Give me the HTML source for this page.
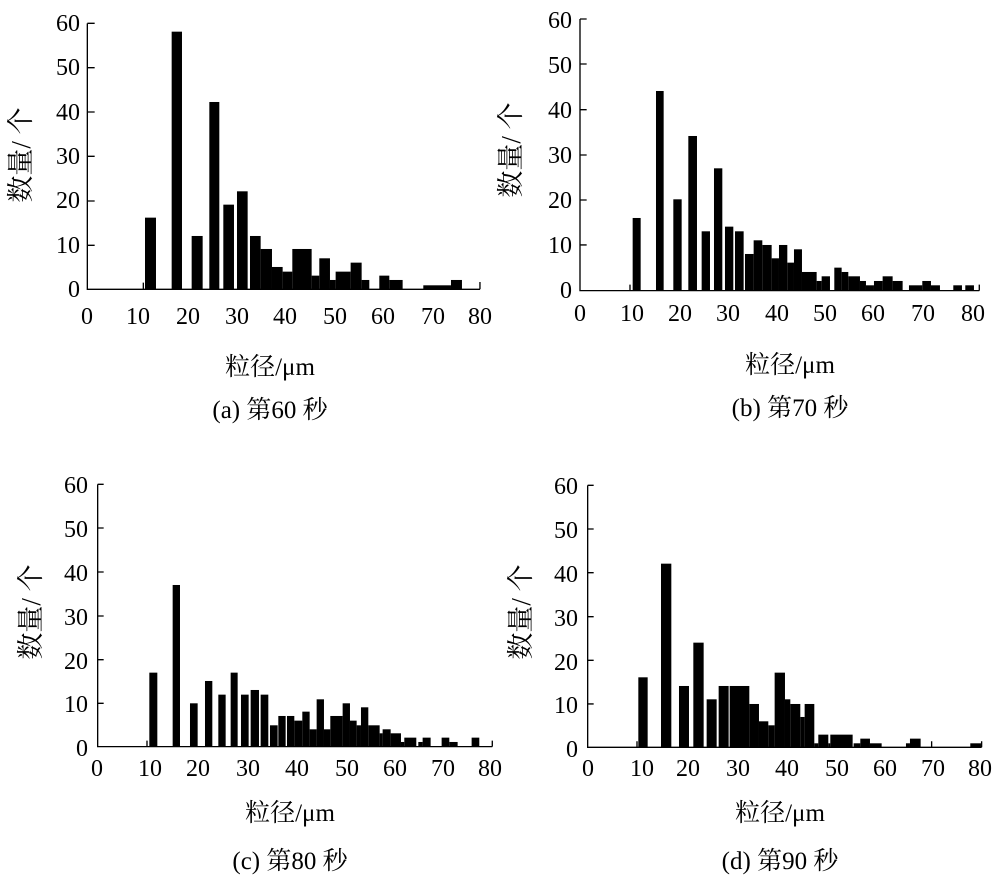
<!DOCTYPE html>
<html><head><meta charset="utf-8"><style>
html,body{margin:0;padding:0;background:#fff;}
svg text{font-family:"Liberation Serif","Noto Serif CJK SC",serif;fill:#000;}
</style></head><body>
<svg width="1000" height="886" viewBox="0 0 1000 886" xmlns="http://www.w3.org/2000/svg">
<!-- Chart A -->
<g transform="translate(80,10) scale(0.3333)">
<g fill="#000">
<rect x="195" y="623" width="33" height="215"/><rect x="275" y="65" width="31" height="773"/><rect x="335" y="678" width="33" height="160"/><rect x="388" y="276" width="30" height="562"/><rect x="430" y="584" width="32" height="254"/><rect x="471" y="544" width="32" height="294"/><rect x="510" y="678" width="32" height="160"/><rect x="542" y="717" width="34" height="121"/><rect x="576" y="771" width="32" height="67"/><rect x="608" y="785" width="29" height="53"/><rect x="637" y="717" width="58" height="121"/><rect x="695" y="797" width="23" height="41"/><rect x="718" y="745" width="32" height="93"/><rect x="750" y="810" width="17" height="28"/><rect x="767" y="785" width="45" height="53"/><rect x="812" y="758" width="33" height="80"/><rect x="845" y="810" width="23" height="28"/><rect x="898" y="797" width="30" height="41"/><rect x="928" y="810" width="40" height="28"/><rect x="1030" y="826" width="83" height="12"/><rect x="1113" y="810" width="33" height="28"/>
</g>
<g stroke="#000" stroke-width="4" fill="none">
<path d="M22 40V838H1200M22 40h22M22 173h22M22 306h22M22 439h22M22 573h22M22 706h22M190 838v-20M1200 838v-22"/>
</g></g>
<g font-size="24" text-anchor="end">
<text x="80" y="31">60</text><text x="80" y="75">50</text><text x="80" y="120">40</text><text x="80" y="164">30</text><text x="80" y="208">20</text><text x="80" y="253">10</text><text x="80" y="297">0</text>
</g>
<g font-size="24" text-anchor="middle">
<text x="87" y="324">0</text><text x="138" y="324">10</text><text x="188" y="324">20</text><text x="237" y="324">30</text><text x="285" y="324">40</text><text x="335" y="324">50</text><text x="383" y="324">60</text><text x="433" y="324">70</text><text x="480" y="324">80</text>
<text x="270" y="375" font-size="25">粒径/μm</text>
<text x="270" y="418" font-size="25">(a) 第60 秒</text>
</g>
<text transform="translate(30,155) rotate(-90)" font-size="27" text-anchor="middle">数量/ 个</text>

<!-- Chart B -->
<g transform="translate(570,10) scale(0.3333)">
<g fill="#000">
<rect x="188" y="624" width="24" height="218"/><rect x="258" y="243" width="23" height="599"/><rect x="310" y="568" width="25" height="274"/><rect x="355" y="378" width="26" height="464"/><rect x="395" y="664" width="25" height="178"/><rect x="432" y="475" width="25" height="367"/><rect x="465" y="650" width="25" height="192"/><rect x="495" y="664" width="26" height="178"/><rect x="525" y="732" width="26" height="110"/><rect x="551" y="691" width="26" height="151"/><rect x="577" y="705" width="28" height="137"/><rect x="605" y="745" width="22" height="97"/><rect x="627" y="705" width="25" height="137"/><rect x="652" y="758" width="20" height="84"/><rect x="672" y="718" width="24" height="124"/><rect x="696" y="786" width="44" height="56"/><rect x="740" y="813" width="15" height="29"/><rect x="755" y="799" width="25" height="43"/><rect x="793" y="773" width="22" height="69"/><rect x="815" y="786" width="20" height="56"/><rect x="835" y="799" width="35" height="43"/><rect x="870" y="813" width="18" height="29"/><rect x="888" y="826" width="24" height="16"/><rect x="912" y="813" width="26" height="29"/><rect x="938" y="799" width="30" height="43"/><rect x="968" y="813" width="30" height="29"/><rect x="1017" y="826" width="40" height="16"/><rect x="1057" y="813" width="26" height="29"/><rect x="1083" y="826" width="27" height="16"/><rect x="1150" y="826" width="26" height="16"/><rect x="1186" y="826" width="26" height="16"/>
</g>
<g stroke="#000" stroke-width="4" fill="none">
<path d="M30 27V842H1228M30 27h20M30 162h20M30 299h20M30 435h20M30 570h20M30 705h20M180 842v-18M1228 842v-18"/>
</g></g>
<g font-size="24" text-anchor="end">
<text x="572" y="28">60</text><text x="572" y="73">50</text><text x="572" y="118">40</text><text x="572" y="163">30</text><text x="572" y="208">20</text><text x="572" y="253">10</text><text x="572" y="298">0</text>
</g>
<g font-size="24" text-anchor="middle">
<text x="580" y="321">0</text><text x="632" y="321">10</text><text x="680" y="321">20</text><text x="728" y="321">30</text><text x="777" y="321">40</text><text x="825" y="321">50</text><text x="873" y="321">60</text><text x="923" y="321">70</text><text x="973" y="321">80</text>
<text x="790" y="373" font-size="25">粒径/μm</text>
<text x="790" y="416" font-size="25">(b) 第70 秒</text>
</g>
<text transform="translate(520,150) rotate(-90)" font-size="27" text-anchor="middle">数量/ 个</text>

<!-- Chart C -->
<g transform="translate(85,470) scale(0.3333)">
<g fill="#000">
<rect x="193" y="608" width="24" height="222"/><rect x="263" y="345" width="22" height="485"/><rect x="315" y="700" width="23" height="130"/><rect x="360" y="633" width="22" height="197"/><rect x="400" y="674" width="22" height="156"/><rect x="437" y="608" width="21" height="222"/><rect x="468" y="674" width="23" height="156"/><rect x="497" y="660" width="25" height="170"/><rect x="527" y="674" width="23" height="156"/><rect x="555" y="766" width="23" height="64"/><rect x="580" y="738" width="22" height="92"/><rect x="606" y="738" width="22" height="92"/><rect x="628" y="752" width="24" height="78"/><rect x="652" y="725" width="22" height="105"/><rect x="674" y="778" width="21" height="52"/><rect x="695" y="688" width="22" height="142"/><rect x="717" y="778" width="19" height="52"/><rect x="736" y="738" width="37" height="92"/><rect x="773" y="700" width="22" height="130"/><rect x="795" y="752" width="20" height="78"/><rect x="815" y="766" width="13" height="64"/><rect x="828" y="712" width="22" height="118"/><rect x="850" y="766" width="34" height="64"/><rect x="884" y="790" width="9" height="40"/><rect x="893" y="778" width="24" height="52"/><rect x="917" y="790" width="31" height="40"/><rect x="948" y="816" width="10" height="14"/><rect x="958" y="803" width="36" height="27"/><rect x="1000" y="816" width="13" height="14"/><rect x="1013" y="803" width="24" height="27"/><rect x="1070" y="803" width="23" height="27"/><rect x="1093" y="816" width="25" height="14"/><rect x="1160" y="803" width="23" height="27"/>
</g>
<g stroke="#000" stroke-width="4" fill="none">
<path d="M38 43V830H1222M38 43h18M38 174h18M38 306h18M38 438h18M38 569h18M38 700h18M186 830v-18M1222 830v-18"/>
</g></g>
<g font-size="24" text-anchor="end">
<text x="88" y="493">60</text><text x="88" y="537">50</text><text x="88" y="581">40</text><text x="88" y="625">30</text><text x="88" y="669">20</text><text x="88" y="712">10</text><text x="88" y="756">0</text>
</g>
<g font-size="24" text-anchor="middle">
<text x="97" y="776">0</text><text x="150" y="776">10</text><text x="198" y="776">20</text><text x="248" y="776">30</text><text x="297" y="776">40</text><text x="347" y="776">50</text><text x="395" y="776">60</text><text x="443" y="776">70</text><text x="490" y="776">80</text>
<text x="290" y="821" font-size="25">粒径/μm</text>
<text x="290" y="869" font-size="25">(c) 第80 秒</text>
</g>
<text transform="translate(40,612) rotate(-90)" font-size="27" text-anchor="middle">数量/ 个</text>

<!-- Chart D -->
<g transform="translate(575,470) scale(0.3333)">
<g fill="#000">
<rect x="190" y="622" width="28" height="210"/><rect x="258" y="281" width="31" height="551"/><rect x="312" y="648" width="30" height="184"/><rect x="355" y="518" width="31" height="314"/><rect x="395" y="688" width="30" height="144"/><rect x="431" y="648" width="30" height="184"/><rect x="464" y="648" width="59" height="184"/><rect x="523" y="702" width="29" height="130"/><rect x="552" y="754" width="28" height="78"/><rect x="580" y="766" width="19" height="66"/><rect x="599" y="608" width="31" height="224"/><rect x="630" y="688" width="16" height="144"/><rect x="646" y="702" width="30" height="130"/><rect x="676" y="741" width="13" height="91"/><rect x="689" y="702" width="29" height="130"/><rect x="718" y="820" width="12" height="12"/><rect x="730" y="794" width="30" height="38"/><rect x="760" y="820" width="6" height="12"/><rect x="766" y="794" width="67" height="38"/><rect x="836" y="820" width="20" height="12"/><rect x="856" y="806" width="29" height="26"/><rect x="885" y="820" width="35" height="12"/><rect x="993" y="820" width="12" height="12"/><rect x="1005" y="806" width="32" height="26"/><rect x="1186" y="820" width="32" height="12"/>
</g>
<g stroke="#000" stroke-width="4" fill="none">
<path d="M38 46V832H1220M38 46h18M38 177h18M38 308h18M38 440h18M38 571h18M38 702h18M186 832v-18M1070 832v-18M1220 832v-18"/>
</g></g>
<g font-size="24" text-anchor="end">
<text x="578" y="494">60</text><text x="578" y="538">50</text><text x="578" y="582">40</text><text x="578" y="626">30</text><text x="578" y="670">20</text><text x="578" y="713">10</text><text x="578" y="757">0</text>
</g>
<g font-size="24" text-anchor="middle">
<text x="588" y="776">0</text><text x="642" y="776">10</text><text x="688" y="776">20</text><text x="738" y="776">30</text><text x="787" y="776">40</text><text x="837" y="776">50</text><text x="885" y="776">60</text><text x="933" y="776">70</text><text x="980" y="776">80</text>
<text x="780" y="821" font-size="25">粒径/μm</text>
<text x="780" y="869" font-size="25">(d) 第90 秒</text>
</g>
<text transform="translate(530,612) rotate(-90)" font-size="27" text-anchor="middle">数量/ 个</text>
</svg>
</body></html>
